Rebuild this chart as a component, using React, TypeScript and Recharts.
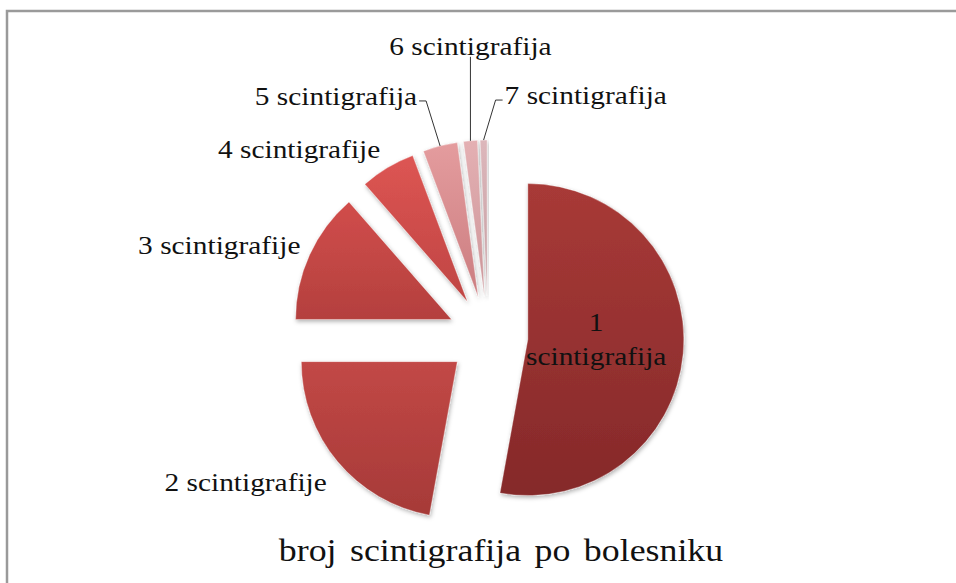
import { PieChart, Pie, Cell } from "recharts";

const categories = [
  "1 scintigrafija",
  "2 scintigrafije",
  "3 scintigrafije",
  "4 scintigrafije",
  "5 scintigrafija",
  "6 scintigrafija",
  "7 scintigrafija",
];
const patients = [74, 31, 19, 8, 5, 2, 1];
const chartTitle = "broj scintigrafija po bolesniku";

// top / bottom colour of each slice's gradient
const sliceTop = ["#a83a37", "#c24846", "#d14d4b", "#dd5553", "#e49c9e", "#e4b0b3", "#ddb7bb"];
const sliceBottom = ["#85292a", "#a63a38", "#b4403e", "#bf4543", "#cb7d80", "#cc9599", "#c49ea2"];

const W = 956;
const H = 583;
const RAD = Math.PI / 180;
const EXPLODE = 40;
const FONT = "Liberation Serif, Times New Roman, serif";
const SX = 1.13; // the labels in the source are a little stretched sideways

const pieData = categories.map((name, i) => ({ name, value: patients[i] }));
const total = patients.reduce((a, b) => a + b, 0);
const midAngles = patients.map((v, i) => {
  const before = patients.slice(0, i).reduce((a, b) => a + b, 0);
  return 90 - (360 * (before + v / 2)) / total;
});
const shift = (deg: number) => ({
  dx: EXPLODE * Math.cos(deg * RAD),
  dy: -EXPLODE * Math.sin(deg * RAD),
});

// how each label sits: outside text, or a leader line ending at an elbow
const labelLayout: any[] = [
  { kind: "inside" },
  { kind: "outside", gap: 14, dy: 12 },
  { kind: "outside", gap: 10, dy: -5 },
  { kind: "outside", gap: 14, dy: -6 },
  { kind: "leader", ex: -14, ey: -45, side: "left" },
  { kind: "leader", ex: 0, ey: -84, side: "top" },
  { kind: "leader", ex: 12, ey: -40, side: "right" },
];

function Txt({ x, y, anchor, children, size = 26 }: any) {
  return (
    <text
      transform={`translate(${x},${y}) scale(${SX},1)`}
      textAnchor={anchor}
      fontFamily={FONT}
      fontSize={size}
      fill="#111"
    >
      {children}
    </text>
  );
}

const renderLabel = (props: any) => {
  const { cx, cy, midAngle, outerRadius, index, name } = props;
  const cos = Math.cos(midAngle * RAD);
  const sin = Math.sin(midAngle * RAD);
  const ox = cx + EXPLODE * cos;
  const oy = cy - EXPLODE * sin;
  const lay = labelLayout[index];

  if (lay.kind === "inside") {
    const r = outerRadius * 0.44;
    const px = ox + r * cos;
    const py = oy - r * sin;
    const [n, word] = String(name).split(" ");
    return (
      <g key={`lbl-${index}`}>
        <Txt x={px} y={py - 15} anchor="middle">{n}</Txt>
        <Txt x={px} y={py + 19} anchor="middle">{word}</Txt>
      </g>
    );
  }

  if (lay.kind === "outside") {
    const r = outerRadius + lay.gap;
    const px = ox + r * cos;
    const py = oy - r * sin + lay.dy;
    return (
      <g key={`lbl-${index}`}>
        <Txt x={px} y={py + 8} anchor={cos < 0 ? "end" : "start"}>{name}</Txt>
      </g>
    );
  }

  // leader line labels for the thin slices
  const sx = ox + outerRadius * cos;
  const sy = oy - outerRadius * sin;
  const ex = sx + lay.ex;
  const ey = sy + lay.ey;
  if (lay.side === "top") {
    return (
      <g key={`lbl-${index}`}>
        <path d={`M${sx},${sy}L${ex},${ey}`} stroke="#333" strokeWidth={1} fill="none" />
        <Txt x={ex} y={ey - 2} anchor="middle">{name}</Txt>
      </g>
    );
  }
  const dir = lay.side === "left" ? -1 : 1;
  const tx = ex + dir * 7;
  return (
    <g key={`lbl-${index}`}>
      <path d={`M${sx},${sy}L${ex},${ey}L${tx},${ey}`} stroke="#333" strokeWidth={1} fill="none" />
      <Txt x={tx + dir * 2} y={ey + 4} anchor={dir < 0 ? "end" : "start"}>{name}</Txt>
    </g>
  );
};

export default function App() {
  return (
    <div style={{ position: "absolute", left: 0, top: 0, width: W, height: H, background: "#fff" }}>
      <PieChart width={W} height={H} margin={{ top: 0, right: 0, bottom: 0, left: 0 }}>
        <defs>
          {patients.map((_, i) => (
            <linearGradient key={i} id={`slice${i}`} x1="0" y1="0" x2="0" y2="1">
              <stop offset="0%" stopColor={sliceTop[i]} />
              <stop offset="100%" stopColor={sliceBottom[i]} />
            </linearGradient>
          ))}
          <filter id="sliceShadow" x="-20%" y="-20%" width="140%" height="140%">
            <feDropShadow dx="1" dy="2" stdDeviation="2" floodColor="#000" floodOpacity="0.3" />
          </filter>
        </defs>
        <Pie
          data={pieData}
          dataKey="value"
          nameKey="name"
          cx={488}
          cy={336}
          outerRadius={156}
          startAngle={90}
          endAngle={-270}
          label={renderLabel}
          labelLine={false}
          isAnimationActive={false}
        >
          {pieData.map((d, i) => {
            const { dx, dy } = shift(midAngles[i]);
            return (
              <Cell
                key={d.name}
                fill={`url(#slice${i})`}
                stroke="rgba(255,255,255,0.35)"
                strokeWidth={1}
                filter="url(#sliceShadow)"
                transform={`translate(${dx},${dy})`}
              />
            );
          })}
        </Pie>
      </PieChart>
      <svg
        width={W}
        height={H}
        style={{ position: "absolute", left: 0, top: 0, pointerEvents: "none" }}
      >
        <rect x={7} y={11} width={1000} height={1000} fill="none" stroke="#9a9a9a" strokeWidth={2.5} />
        <text
          transform={`translate(501,561) scale(1.12,1)`}
          textAnchor="middle"
          fontFamily={FONT}
          fontSize={32}
          wordSpacing={4}
          fill="#111"
        >
          {chartTitle}
        </text>
      </svg>
    </div>
  );
}
